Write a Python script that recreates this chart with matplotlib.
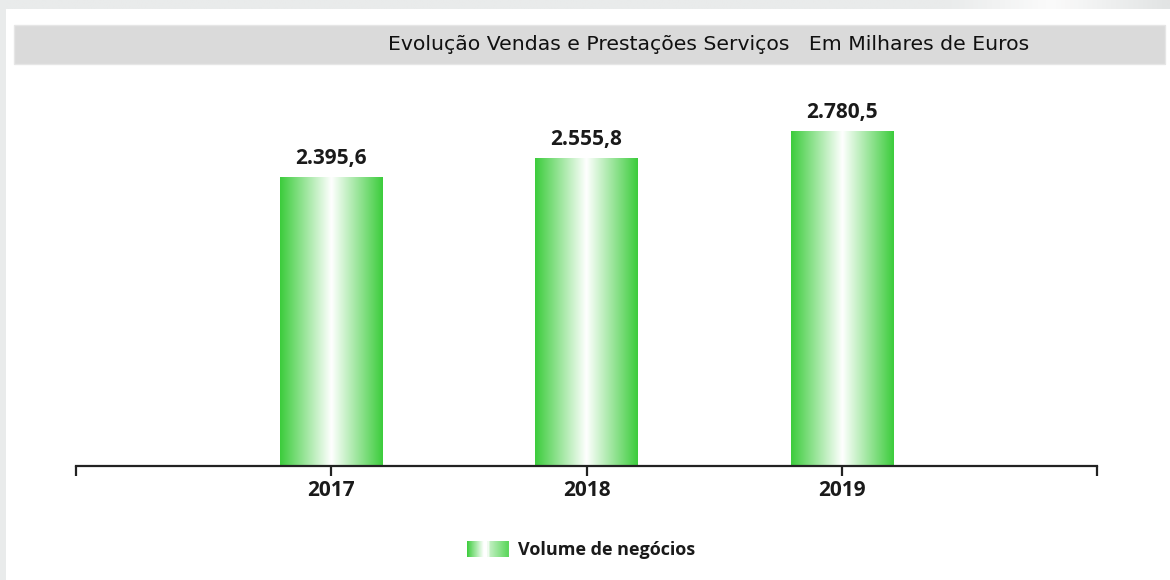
import matplotlib
matplotlib.use("Agg")
import matplotlib.pyplot as plt
import numpy as np
from matplotlib.colors import LinearSegmentedColormap
from matplotlib.patches import Rectangle
from matplotlib.legend_handler import HandlerPatch

# data
years = ["2017", "2018", "2019"]
volume = [2395.6, 2555.8, 2780.5]
series_name = "Volume de negócios"
title = "Evolução Vendas e Prestações Serviços   Em Milhares de Euros"

W, H = 1170, 580
green = "#3ccc3c"
bar_cmap = LinearSegmentedColormap.from_list("bar", [green, "#ffffff", green])
leg_cmap = LinearSegmentedColormap.from_list(
    "leg", [(0, green), (0.42, "#ffffff"), (0.5, "#ffffff"),
            (0.56, "#bdeebd"), (1, "#5cd65c")])


def fmt_pt(v):
    # 2395.6 -> 2.395,6
    s = f"{v:,.1f}"
    return s.replace(",", "X").replace(".", ",").replace("X", ".")


def px(x0, y0, x1, y1):
    # pixel box (top-left origin) -> figure fraction rect
    return [x0 / W, 1 - y1 / H, (x1 - x0) / W, (y1 - y0) / H]


fig = plt.figure(figsize=(W / 100, H / 100), dpi=100, facecolor="white")

# outer frame: grey top strip with a light sheen at the right, grey left strip
strip = fig.add_axes(px(0, 0, W, 9))
strip.axis("off")
sheen = LinearSegmentedColormap.from_list(
    "sheen", [(0, "#e9ebeb"), (0.81, "#e9ebeb"), (0.9, "#fbfbfb"), (1, "#e2e4e4")])
strip.imshow(np.linspace(0, 1, 512)[None, :], cmap=sheen, aspect="auto",
             extent=(0, 1, 0, 1))
fig.patches.append(Rectangle((0, 0), 6 / W, 1, transform=fig.transFigure,
                             facecolor="#e9ebeb", edgecolor="none", zorder=0))

# title band
fig.patches.append(Rectangle((14 / W, 1 - 64 / H), (1165 - 14) / W, 39 / H,
                             transform=fig.transFigure, facecolor="#dadada",
                             edgecolor="#e6e6e6", linewidth=1, zorder=1))
fig.text(388 / W, 1 - 45 / H, title, ha="left", va="center", fontsize=14.7,
         color="#111111", zorder=2)

# plotting area
ax = fig.add_axes(px(76, 100, 1097, 466))
x = np.arange(len(years))
bars = ax.bar(x, volume, width=0.4, color="none", edgecolor="none")
grad = np.linspace(0, 1, 256)[None, :]
for b in bars:
    x0, y0 = b.get_x(), b.get_y()
    x1, y1 = x0 + b.get_width(), y0 + b.get_height()
    im = ax.imshow(grad, cmap=bar_cmap, aspect="auto", extent=(x0, x1, y0, y1),
                   interpolation="bicubic", zorder=2)
    im.set_clip_path(b)

ax.set_xlim(-1, 3)
ax.set_ylim(0, 366 * 8.3)

for b, v in zip(bars, volume):
    ax.annotate(fmt_pt(v), (b.get_x() + b.get_width() / 2, b.get_height()),
                xytext=(0, 6), textcoords="offset points", ha="center",
                va="bottom", fontsize=15, fontweight="bold",
                family="Open Sans", color="#1a1a1a")

for s in ["top", "left", "right"]:
    ax.spines[s].set_visible(False)
ax.spines["bottom"].set_linewidth(1.6)
ax.spines["bottom"].set_color("#222222")
ax.set_yticks([])
ax.set_xticks(x)
ax.set_xticklabels(years, fontsize=15, fontweight="bold", family="Open Sans",
                   color="#1a1a1a")
ax.set_xticks([-1, 3], minor=True)
ax.tick_params(axis="x", which="both", direction="out", length=7, width=1.6,
               color="#222222", pad=3)


class GradHandler(HandlerPatch):
    def create_artists(self, legend, orig_handle, xdescent, ydescent, width,
                       height, fontsize, trans):
        n = 40
        arts = []
        for i in range(n):
            c = leg_cmap((i + 0.5) / n)
            r = Rectangle((-xdescent + width * i / n, -ydescent), width / n + 0.2,
                          height, facecolor=c, edgecolor="none", transform=trans)
            arts.append(r)
        return arts


handle = Rectangle((0, 0), 1, 1, facecolor=green)
leg = fig.legend([handle], [series_name], loc="center",
                 bbox_to_anchor=(581 / W, 1 - 550 / H), frameon=False,
                 handler_map={Rectangle: GradHandler()}, handlelength=2.3,
                 handleheight=1.0, handletextpad=0.55,
                 prop={"family": "Open Sans", "weight": "bold", "size": 13})
for t in leg.get_texts():
    t.set_color("#1a1a1a")

fig.savefig("out.png", dpi=100, facecolor="white")
